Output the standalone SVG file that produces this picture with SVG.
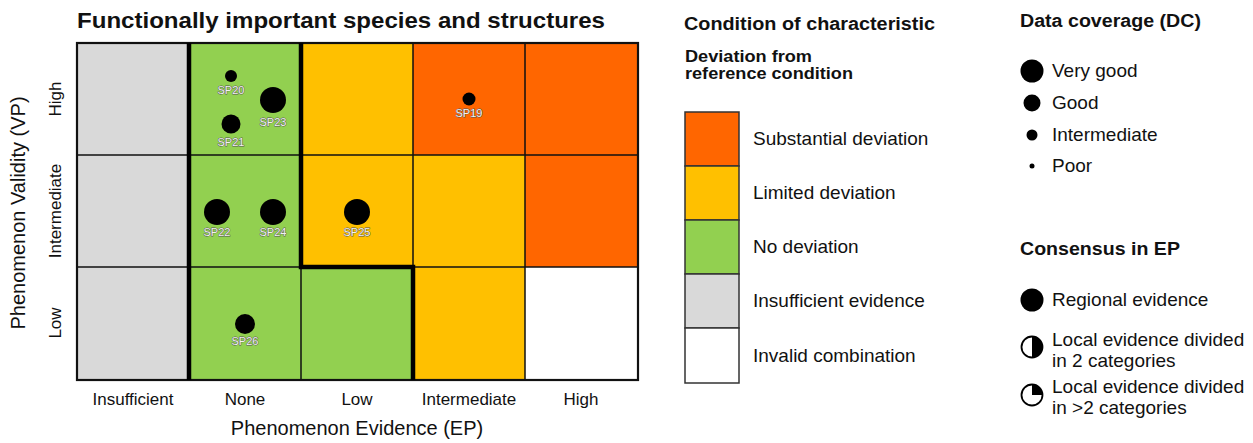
<svg xmlns="http://www.w3.org/2000/svg" width="1253" height="443" viewBox="0 0 1253 443">
<style>
text{font-family:"Liberation Sans",Arial,sans-serif;fill:#111}
.b{font-weight:bold}
.tick{font-size:17px}
.axt{font-size:20px}
.leg{font-size:19px}
.lab{font-size:11px;fill:#f2f2f2;stroke:#555;stroke-width:0.9px;paint-order:stroke;text-anchor:middle}
.thin{fill:none;stroke:#111;stroke-width:1.5}
.thick{fill:none;stroke:#000;stroke-width:4.5}
.box{stroke:#333;stroke-width:1.5}
.gy{fill:#d9d9d9}.gn{fill:#92d050}.yl{fill:#ffc000}.or{fill:#ff6600}.wh{fill:#ffffff}
</style>
<rect width="1253" height="443" fill="#fff"/>
<text class="b" x="77" y="28" font-size="21.5" textLength="528" lengthAdjust="spacingAndGlyphs">Functionally important species and structures</text>
<g id="grid">
<rect class="gy" x="77" y="43" width="112" height="112"/>
<rect class="gn" x="189" y="43" width="112" height="112"/>
<rect class="yl" x="301" y="43" width="112" height="112"/>
<rect class="or" x="413" y="43" width="112" height="112"/>
<rect class="or" x="525" y="43" width="113" height="112"/>
<rect class="gy" x="77" y="155" width="112" height="112"/>
<rect class="gn" x="189" y="155" width="112" height="112"/>
<rect class="yl" x="301" y="155" width="112" height="112"/>
<rect class="yl" x="413" y="155" width="112" height="112"/>
<rect class="or" x="525" y="155" width="113" height="112"/>
<rect class="gy" x="77" y="267" width="112" height="113"/>
<rect class="gn" x="189" y="267" width="112" height="113"/>
<rect class="gn" x="301" y="267" width="112" height="113"/>
<rect class="yl" x="413" y="267" width="112" height="113"/>
<rect class="wh" x="525" y="267" width="113" height="113"/>
<path class="thin" d="M77,155H638M77,267H638M301,43V380M413,43V380M525,43V380"/>
<rect x="77" y="43" width="561" height="337" fill="none" stroke="#111" stroke-width="2.2"/>
<path class="thick" d="M189,43V380M301,43V267H413V380"/>
</g>
<g id="points">
<circle cx="231" cy="76" r="6"/><text class="lab" x="231" y="94">SP20</text>
<circle cx="273" cy="100" r="13"/><text class="lab" x="273" y="126">SP23</text>
<circle cx="231" cy="124" r="9.5"/><text class="lab" x="231" y="146">SP21</text>
<circle cx="469" cy="99" r="6.5"/><text class="lab" x="469" y="117">SP19</text>
<circle cx="217" cy="212" r="13"/><text class="lab" x="217" y="236">SP22</text>
<circle cx="273" cy="212" r="13"/><text class="lab" x="273" y="236">SP24</text>
<circle cx="357" cy="212" r="13"/><text class="lab" x="357" y="236">SP25</text>
<circle cx="245" cy="324" r="10"/><text class="lab" x="245" y="345">SP26</text>
</g>
<g id="x-axis" text-anchor="middle">
<text class="tick" x="133" y="405">Insufficient</text>
<text class="tick" x="245" y="405">None</text>
<text class="tick" x="357" y="405">Low</text>
<text class="tick" x="469" y="405">Intermediate</text>
<text class="tick" x="581" y="405">High</text>
<text class="axt" x="357" y="435">Phenomenon Evidence (EP)</text>
</g>
<g id="y-axis" text-anchor="middle">
<text class="tick" transform="translate(61,99) rotate(-90)">High</text>
<text class="tick" transform="translate(61,211) rotate(-90)">Intermediate</text>
<text class="tick" transform="translate(61,323) rotate(-90)">Low</text>
<text class="axt" transform="translate(25,213) rotate(-90)">Phenomenon Validity (VP)</text>
</g>
<g id="legend-condition">
<text class="b" x="684" y="30" font-size="18" textLength="251" lengthAdjust="spacingAndGlyphs">Condition of characteristic</text>
<text class="b" x="685" y="62" font-size="16.5" textLength="127" lengthAdjust="spacingAndGlyphs">Deviation from</text>
<text class="b" x="685" y="79" font-size="16.5" textLength="168" lengthAdjust="spacingAndGlyphs">reference condition</text>
<rect class="box or" x="685" y="112" width="54" height="54"/>
<rect class="box yl" x="685" y="166" width="54" height="54"/>
<rect class="box gn" x="685" y="220" width="54" height="54"/>
<rect class="box gy" x="685" y="274" width="54" height="54"/>
<rect class="box wh" x="685" y="328" width="54" height="55"/>
<text class="leg" x="753" y="145">Substantial deviation</text>
<text class="leg" x="753" y="199">Limited deviation</text>
<text class="leg" x="753" y="253">No deviation</text>
<text class="leg" x="753" y="307">Insufficient evidence</text>
<text class="leg" x="753" y="362">Invalid combination</text>
</g>
<g id="legend-dc">
<text class="b" x="1020" y="27" font-size="18" textLength="181" lengthAdjust="spacingAndGlyphs">Data coverage (DC)</text>
<circle cx="1032" cy="71" r="11.5"/>
<circle cx="1032" cy="103" r="8.5"/>
<circle cx="1032" cy="135" r="5.5"/>
<circle cx="1032" cy="166" r="2.5"/>
<text class="leg" x="1052" y="77">Very good</text>
<text class="leg" x="1052" y="109">Good</text>
<text class="leg" x="1052" y="141">Intermediate</text>
<text class="leg" x="1052" y="172">Poor</text>
</g>
<g id="legend-consensus">
<text class="b" x="1020" y="255" font-size="18" textLength="160" lengthAdjust="spacingAndGlyphs">Consensus in EP</text>
<circle cx="1032" cy="300" r="11.5"/>
<text class="leg" x="1052" y="306">Regional evidence</text>
<circle cx="1032" cy="347" r="10.5" fill="#fff" stroke="#000" stroke-width="1.8"/>
<path d="M1032,336.5A10.5,10.5 0 0 1 1032,357.5Z"/>
<text class="leg" x="1052" y="346">Local evidence divided</text>
<text class="leg" x="1052" y="367">in 2 categories</text>
<circle cx="1032" cy="395" r="10.5" fill="#fff" stroke="#000" stroke-width="1.8"/>
<path d="M1032,395V384.5A10.5,10.5 0 0 1 1042.5,395Z"/>
<text class="leg" x="1052" y="393">Local evidence divided</text>
<text class="leg" x="1052" y="414">in &gt;2 categories</text>
</g>
</svg>
